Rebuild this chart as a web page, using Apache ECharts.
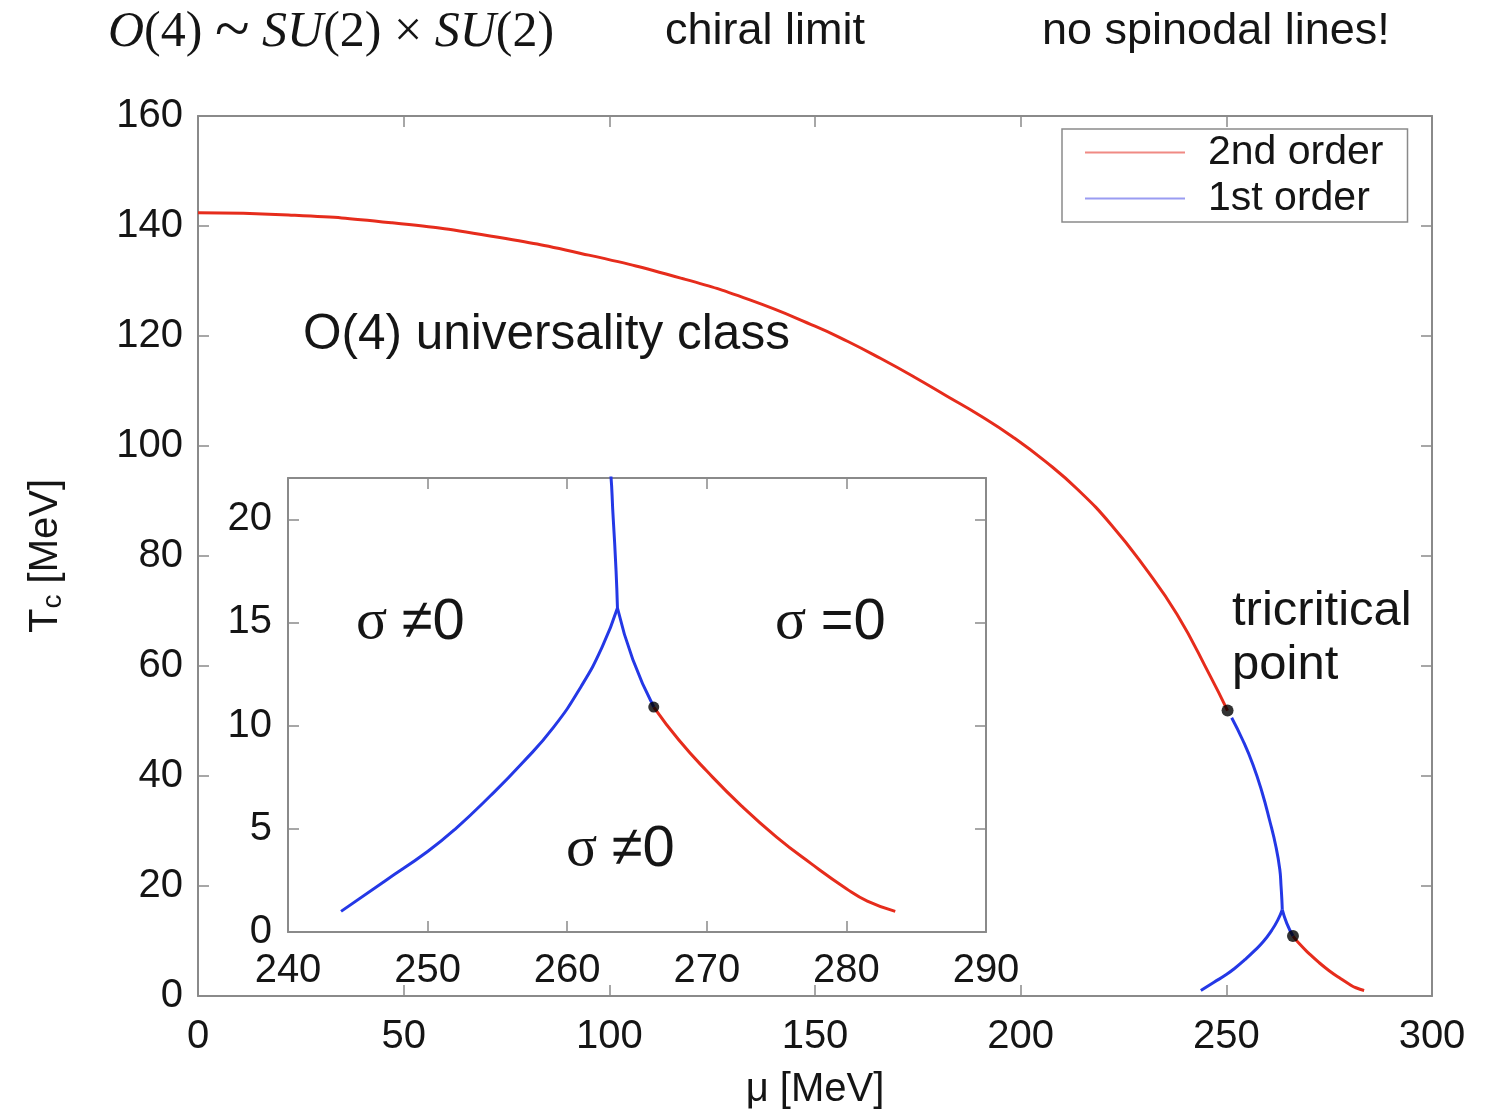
<!DOCTYPE html>
<html>
<head>
<meta charset="utf-8">
<script src="https://cdn.jsdelivr.net/npm/echarts@6/dist/echarts.min.js"></script>
<style>html,body{margin:0;padding:0;background:#fff;}#c{width:1507px;height:1115px;}</style>
</head>
<body>
<div id="c"></div>
<script>
// ---- data: [mu (MeV), T (MeV)] ----
const redMain = [[0,142.4],[22,142.0],[47,140.6],[71,138.2],[95,134.7],[118,130.4],[134,126.6],[150,121.8],[158,119.0],[166,115.9],[174,112.6],[182,109.1],[190,105.6],[198,101.7],[206,97.2],[214,92.0],[222,85.7],[230,78.1],[238,69.4],[246,58.3],[250.3,51.9]];
const blueUpper = [[251.3,50.6],[254,46.5],[256.5,42.0],[258.7,37.0],[260.5,32.0],[262.1,27.0],[263.0,23.0],[263.3,20.0],[263.5,17.5],[263.6,15.7]];
const blueLeft = [[263.6,15.7],[262.5,13.8],[261.0,11.9],[259.0,9.9],[256.8,8.2],[254.5,6.6],[252.0,5.0],[250.0,3.9],[247.0,2.5],[243.8,1.0]];
const blueRight = [[263.6,15.7],[264.7,13.2],[266.2,10.9]];
const redLow = [[266.2,10.9],[268.0,9.3],[270.0,7.8],[272.5,6.1],[275.0,4.6],[277.5,3.3],[280.0,2.1],[281.5,1.5],[283.5,1.0]];
const mainDots = [[250.3,51.9],[266.2,10.9]];
const insetDots = [[266.2,10.9]];
const mainXTicks = [0,300,50];
const mainYTicks = [0,160,20];
const insetXTicks = [240,290,10];
const insetYTicks = [0,22,5];

const RED = '#e62c1c', BLUE = '#2438e6', FRAME = '#8a8a8a', TXT = '#151515';
const SANS = 'Liberation Sans, Arial, Helvetica, sans-serif';
const SERIF = 'Liberation Serif, Times New Roman, serif';

function axisBase(extra){
  return Object.assign({
    type:'value',
    axisLine:{show:true,onZero:false,lineStyle:{color:FRAME,width:2}},
    axisTick:{show:true,inside:true,length:11,lineStyle:{color:FRAME,width:1.5}},
    splitLine:{show:false},
    axisLabel:{show:false}
  }, extra);
}
const lbl = (m)=>({show:true,color:TXT,fontSize:40,fontFamily:SANS,margin:m});

const chart = echarts.init(document.getElementById('c'));
const lineS = (name,data,color,xi,yi,z)=>({type:'line',name,data,xAxisIndex:xi,yAxisIndex:yi,showSymbol:false,symbol:'none',smooth:0.5,clip:true,z:z||3,lineStyle:{color,width:3},itemStyle:{color},animation:false});

function txt(x,y,text,font,rich){
  return {type:'text',x,y,z:20,silent:true,style:{text,font,fill:TXT,align:'left',verticalAlign:'middle',rich:rich||undefined}};
}
const sigRich = {
  a:{fontFamily:SERIF,fontSize:58,fill:TXT},
  b:{fontFamily:SANS,fontSize:56,fill:TXT},
  c:{fontFamily:SANS,fontSize:58,fill:TXT}
};

chart.setOption({
  animation:false,
  backgroundColor:'#fff',
  grid:[
    {left:198,top:116,width:1234,height:882,show:false},
    {left:288,top:478,width:698,height:454,show:true,backgroundColor:'#fff',borderWidth:0,z:5}
  ],
  legend:{
    data:[{name:'2nd order',itemStyle:{color:'#f08a84'}},{name:'1st order',itemStyle:{color:'#9a9cf2'}}],
    orient:'vertical',left:1062,top:129,
    icon:'rect',itemWidth:100,itemHeight:2,itemGap:5,
    padding:[3,24,3,23],
    borderColor:FRAME,borderWidth:1.5,backgroundColor:'#fff',
    textStyle:{fontSize:41,color:TXT,fontFamily:SANS,lineHeight:40,padding:[0,0,0,18]},
    selectedMode:false
  },
  xAxis:[
    axisBase({gridIndex:0,position:'bottom',min:mainXTicks[0],max:mainXTicks[1],interval:mainXTicks[2],axisLabel:lbl(21),
      name:'μ [MeV]',nameLocation:'middle',nameGap:74,nameTextStyle:{fontSize:40,color:TXT,fontFamily:SANS}}),
    axisBase({gridIndex:0,position:'top',min:mainXTicks[0],max:mainXTicks[1],interval:mainXTicks[2]}),
    axisBase({gridIndex:1,position:'bottom',min:insetXTicks[0],max:insetXTicks[1],interval:insetXTicks[2],axisLabel:lbl(19),z:6}),
    axisBase({gridIndex:1,position:'top',min:insetXTicks[0],max:insetXTicks[1],interval:insetXTicks[2],z:6})
  ],
  yAxis:[
    axisBase({gridIndex:0,position:'left',min:mainYTicks[0],max:mainYTicks[1],interval:mainYTicks[2],axisLabel:lbl(15),
      name:'T{s|c} [MeV]',nameLocation:'middle',nameGap:131,
      nameTextStyle:{fontSize:40,color:TXT,fontFamily:SANS,rich:{s:{fontSize:28,fontFamily:SANS,color:TXT,padding:[14,0,0,0]}}}}),
    axisBase({gridIndex:0,position:'right',min:mainYTicks[0],max:mainYTicks[1],interval:mainYTicks[2]}),
    axisBase({gridIndex:1,position:'left',min:insetYTicks[0],max:insetYTicks[1],interval:insetYTicks[2],axisLabel:Object.assign(lbl(16),{showMaxLabel:false}),z:6}),
    axisBase({gridIndex:1,position:'right',min:insetYTicks[0],max:insetYTicks[1],interval:insetYTicks[2],z:6})
  ],
  series:[
    lineS('2nd order',redMain,RED,0,0),
    lineS('2nd order',redLow,RED,0,0),
    lineS('1st order',blueUpper,BLUE,0,0),
    lineS('1st order',blueLeft,BLUE,0,0),
    lineS('1st order',blueRight,BLUE,0,0),
    {type:'scatter',data:mainDots,xAxisIndex:0,yAxisIndex:0,symbolSize:12,itemStyle:{color:'#000'},z:4,silent:true},
    lineS('2nd order',redLow,RED,2,2,7),
    lineS('1st order',blueUpper,BLUE,2,2,7),
    lineS('1st order',blueLeft,BLUE,2,2,7),
    lineS('1st order',blueRight,BLUE,2,2,7),
    {type:'scatter',data:insetDots,xAxisIndex:2,yAxisIndex:2,symbolSize:11,itemStyle:{color:'#000'},z:8,silent:true}
  ],
  graphic:[
    txt(108,33,'{i|O}{r|(4) }{t|~}{r| }{i|SU}{r|(2) × }{i|SU}{r|(2)}','50px '+SERIF,
      {i:{fontStyle:'italic',fontSize:50,fontFamily:SERIF,fill:TXT},r:{fontSize:50,fontFamily:SERIF,fill:TXT},t:{fontSize:64,fontFamily:SERIF,fill:TXT}}),
    txt(665,32,'chiral limit','45px '+SANS),
    txt(1042,32,'no spinodal lines!','45px '+SANS),
    txt(303,335,'O(4) universality class','49.5px '+SANS),
    txt(1232,611,'tricritical','49px '+SANS),
    txt(1232,665,'point','49px '+SANS),
    txt(356,623,'{a|σ} {b|≠}{c|0}','58px '+SERIF,sigRich),
    txt(775,623,'{a|σ} {b|=}{c|0}','58px '+SERIF,sigRich),
    txt(566,850,'{a|σ} {b|≠}{c|0}','58px '+SERIF,sigRich)
  ]
});
</script>
</body>
</html>
